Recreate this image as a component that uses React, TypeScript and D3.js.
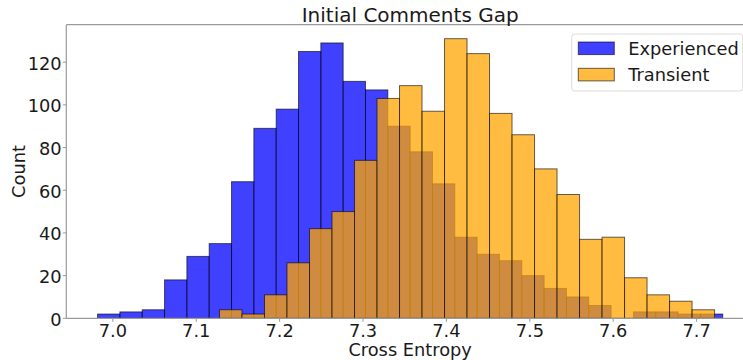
import React from "react";
import * as d3 from "d3";

// Histogram counts per bin, with the sample range each series' bins span
const experiencedCounts = [2, 3, 4, 18, 29, 35, 64, 89, 98, 125, 129, 111, 107, 90, 78, 63, 38, 30, 27, 20, 14, 10, 6, 0, 3, 3, 2, 2];
const experiencedRange = [6.9817, 7.7313];
const transientCounts = [4, 2, 11, 26, 42, 50, 74, 103, 109, 97, 131, 124, 96, 86, 70, 58, 37, 38, 19, 11, 8, 4];
const transientRange = [7.1279, 7.7215];

const xTicks = [7.0, 7.1, 7.2, 7.3, 7.4, 7.5, 7.6, 7.7];
const yTicks = [0, 20, 40, 60, 80, 100, 120];

const seriesNames = ["Experienced", "Transient"];
const seriesColors = ["blue", "orange"];

const W = 743;
const H = 360;
const plot = { left: 66.3, top: 24.7, right: 754, bottom: 318.3 };
const FONT = "'DejaVu Sans', Verdana, sans-serif";

type Bin = { x0: number; x1: number; n: number };

function toBins(counts: number[], range: number[]): Bin[] {
  const step = (range[1] - range[0]) / counts.length;
  return counts.map((n, i) => ({ x0: range[0] + i * step, x1: range[0] + (i + 1) * step, n }));
}

export default function App() {
  const lo = Math.min(experiencedRange[0], transientRange[0]);
  const hi = Math.max(experiencedRange[1], transientRange[1]);
  const pad = (hi - lo) * 0.05;
  const x = d3.scaleLinear().domain([lo - pad, hi + pad]).range([plot.left, plot.right]);
  const yMax = d3.max([...experiencedCounts, ...transientCounts]) as number;
  const y = d3.scaleLinear().domain([0, yMax * 1.05]).range([plot.bottom, plot.top]);

  const series = [toBins(experiencedCounts, experiencedRange), toBins(transientCounts, transientRange)];

  return (
    <svg
      width={W}
      height={H}
      viewBox={`0 0 ${W} ${H}`}
      style={{ position: "absolute", left: 0, top: 0, background: "white" }}
      fontFamily={FONT}
    >
      <rect x={0} y={0} width={W} height={H} fill="white" />

      {series.map((bins, si) => (
        <g key={si}>
          {bins
            .filter((b) => b.n > 0)
            .map((b, i) => (
              <rect
                key={i}
                x={x(b.x0)}
                y={y(b.n)}
                width={x(b.x1) - x(b.x0)}
                height={y(0) - y(b.n)}
                fill={seriesColors[si]}
                fillOpacity={0.75}
                stroke="black"
                strokeOpacity={0.6}
                strokeWidth={1}
              />
            ))}
        </g>
      ))}

      {/* spines */}
      <g stroke="#9a9a9a" strokeWidth={1.2} fill="none">
        <line x1={plot.left} x2={plot.left} y1={plot.top} y2={plot.bottom} />
        <line x1={plot.left} x2={plot.right} y1={plot.bottom} y2={plot.bottom} />
        <line x1={plot.left} x2={plot.right} y1={plot.top} y2={plot.top} />
        <line x1={plot.right} x2={plot.right} y1={plot.top} y2={plot.bottom} />
      </g>

      {/* x axis ticks */}
      {xTicks.map((t) => (
        <g key={t}>
          <line x1={x(t)} x2={x(t)} y1={plot.bottom} y2={plot.bottom + 3.5} stroke="#9a9a9a" strokeWidth={1} />
          <text x={x(t)} y={336.5} textAnchor="middle" fontSize={17.8} fill="#1a1a1a">
            {d3.format(".1f")(t)}
          </text>
        </g>
      ))}

      {/* y axis ticks */}
      {yTicks.map((t) => (
        <g key={t}>
          <line x1={plot.left - 3.5} x2={plot.left} y1={y(t)} y2={y(t)} stroke="#9a9a9a" strokeWidth={1} />
          <text x={61.7} y={y(t) + 7.5} textAnchor="end" fontSize={17.8} fill="#1a1a1a">
            {t}
          </text>
        </g>
      ))}

      <text x={(plot.left + plot.right) / 2} y={21.7} textAnchor="middle" fontSize={20} fill="#1a1a1a">
        Initial Comments Gap
      </text>
      <text x={(plot.left + plot.right) / 2} y={355.5} textAnchor="middle" fontSize={17.8} fill="#1a1a1a">
        Cross Entropy
      </text>
      <text
        transform={`translate(25,${(plot.top + plot.bottom) / 2}) rotate(-90)`}
        textAnchor="middle"
        fontSize={17.8}
        fill="#1a1a1a"
      >
        Count
      </text>

      {/* legend */}
      <g>
        <rect x={571.7} y={34} width={171} height={57} rx={3} fill="white" fillOpacity={0.8} stroke="#dcdcdc" strokeWidth={1} />
        {seriesNames.map((name, i) => (
          <g key={name} transform={`translate(0,${i * 26.3})`}>
            <rect
              x={578.3}
              y={42}
              width={36}
              height={12.6}
              fill={seriesColors[i]}
              fillOpacity={0.75}
              stroke="black"
              strokeOpacity={0.6}
            />
            <text x={628.3} y={55} fontSize={17.8} fill="#1a1a1a">
              {name}
            </text>
          </g>
        ))}
      </g>
    </svg>
  );
}
